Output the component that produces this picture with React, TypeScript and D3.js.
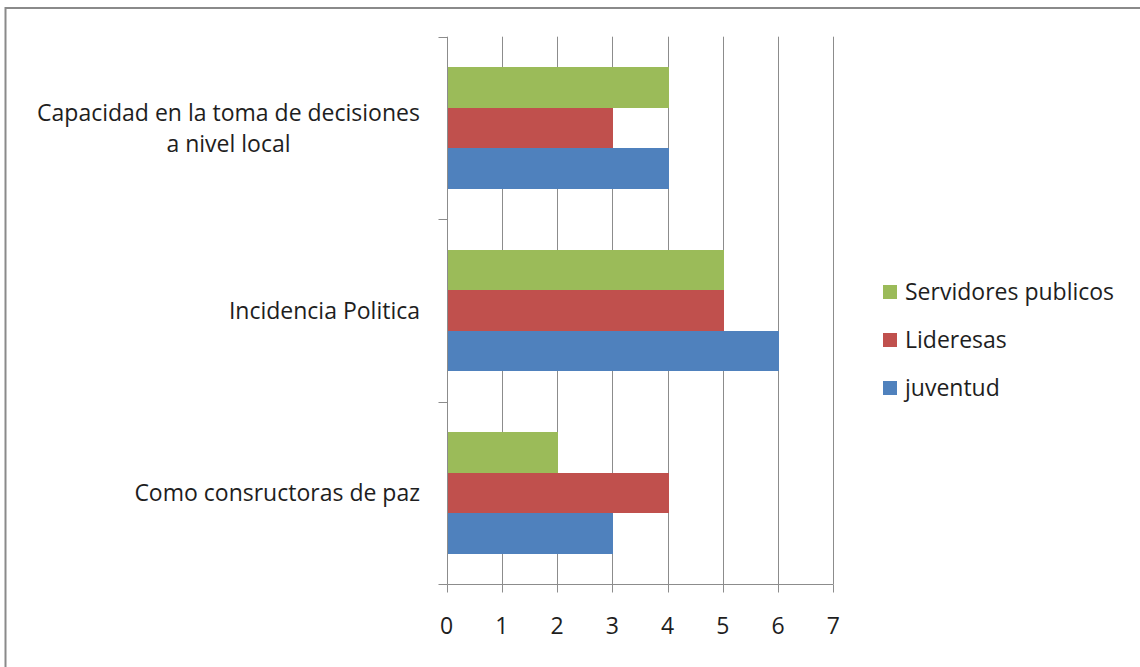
import * as d3 from 'd3';
import React, { useEffect, useRef } from 'react';

// Categorias (de arriba hacia abajo)
const categories = [
  'Capacidad en la toma de decisiones|a nivel local',
  'Incidencia Politica',
  'Como consructoras de paz',
];
// Series (orden dentro de cada grupo, de arriba hacia abajo)
const seriesNames = ['Servidores publicos', 'Lideresas', 'juventud'];
const seriesColors = ['#9BBB59', '#C0504D', '#4F81BD'];

const servidores = [4, 5, 2];
const lideresas = [3, 5, 4];
const juventud = [4, 6, 3];

const xTicks = [0, 1, 2, 3, 4, 5, 6, 7];

const FONT = "'Open Sans', sans-serif";
const FONT_SIZE = '23px';

const App: React.FC = () => {
  const chartRef = useRef<SVGSVGElement | null>(null);

  useEffect(() => {
    if (!chartRef.current) return;
    const svg = d3.select(chartRef.current);
    svg.selectAll('*').remove();

    const width = 1140;
    const height = 667;
    const plot = { left: 446.5, right: 833.3, top: 36.7, bottom: 584.3 };

    // Marco
    svg
      .append('path')
      .attr('d', `M5.5,${height} V8 H${width}`)
      .attr('fill', 'none')
      .attr('stroke', '#8a8a8a')
      .attr('stroke-width', 2);

    const xScale = d3.scaleLinear().domain([0, 7]).range([plot.left, plot.right]);
    const yScale = d3
      .scaleBand<string>()
      .domain(categories)
      .range([plot.top, plot.bottom])
      .paddingInner(0)
      .paddingOuter(0);
    const yInner = d3
      .scaleBand<string>()
      .domain(seriesNames)
      .range([0, yScale.bandwidth()])
      .paddingInner(0)
      .paddingOuter(0.75);

    const grid = '#8c8c8c';

    // Lineas de cuadricula
    svg
      .append('g')
      .selectAll('line')
      .data(xTicks.filter((t) => t > 0))
      .enter()
      .append('line')
      .attr('x1', (d) => Math.round(xScale(d)) + 0.5)
      .attr('x2', (d) => Math.round(xScale(d)) + 0.5)
      .attr('y1', plot.top)
      .attr('y2', plot.bottom)
      .attr('stroke', grid)
      .attr('stroke-width', 1);

    // Barras
    const values = [servidores, lideresas, juventud];
    const rows = categories.flatMap((c, i) =>
      seriesNames.map((s, j) => ({ cat: c, series: s, value: values[j][i], color: seriesColors[j] }))
    );
    const barTop = (d: { cat: string; series: string }) =>
      Math.round((yScale(d.cat) as number) + (yInner(d.series) as number));
    const barBottom = (d: { cat: string; series: string }) =>
      Math.round((yScale(d.cat) as number) + (yInner(d.series) as number) + yInner.bandwidth());
    svg
      .append('g')
      .attr('shape-rendering', 'crispEdges')
      .selectAll('rect')
      .data(rows)
      .enter()
      .append('rect')
      .attr('x', Math.round(xScale(0)))
      .attr('y', barTop)
      .attr('width', (d) => Math.round(xScale(d.value)) - Math.round(xScale(0)) + 1)
      .attr('height', (d) => barBottom(d) - barTop(d))
      .attr('fill', (d) => d.color);

    // Eje Y
    const yAxisX = Math.round(plot.left) + 0.5;
    svg
      .append('line')
      .attr('x1', yAxisX)
      .attr('x2', yAxisX)
      .attr('y1', plot.top)
      .attr('y2', plot.bottom)
      .attr('stroke', grid);
    const yBoundaries = [...categories.map((c) => yScale(c) as number), plot.bottom];
    svg
      .append('g')
      .selectAll('line')
      .data(yBoundaries)
      .enter()
      .append('line')
      .attr('x1', yAxisX - 9)
      .attr('x2', yAxisX)
      .attr('y1', (d) => Math.round(d) + 0.5)
      .attr('y2', (d) => Math.round(d) + 0.5)
      .attr('stroke', grid);

    // Eje X
    const xAxisY = Math.round(plot.bottom) + 0.5;
    svg
      .append('line')
      .attr('x1', yAxisX)
      .attr('x2', plot.right)
      .attr('y1', xAxisY)
      .attr('y2', xAxisY)
      .attr('stroke', grid);
    svg
      .append('g')
      .selectAll('line')
      .data(xTicks)
      .enter()
      .append('line')
      .attr('x1', (d) => Math.round(xScale(d)) + 0.5)
      .attr('x2', (d) => Math.round(xScale(d)) + 0.5)
      .attr('y1', xAxisY)
      .attr('y2', xAxisY + 8)
      .attr('stroke', grid);
    svg
      .append('g')
      .selectAll('text')
      .data(xTicks)
      .enter()
      .append('text')
      .attr('x', (d) => xScale(d))
      .attr('y', 626)
      .attr('dy', '0.35em')
      .attr('text-anchor', 'middle')
      .style('font-family', FONT)
      .style('font-size', FONT_SIZE)
      .attr('fill', '#1e1e1e')
      .text((d) => String(d));

    // Etiquetas de categorias
    const catLabels = svg.append('g');
    categories.forEach((c) => {
      const lines = c.split('|');
      const cy = (yScale(c) as number) + yScale.bandwidth() / 2;
      const lh = 31;
      const cx = 228.5;
      const anchorRight = lines.length === 1;
      lines.forEach((ln, k) => {
        catLabels
          .append('text')
          .attr('x', anchorRight ? 420 : cx)
          .attr('y', cy + (k - (lines.length - 1) / 2) * lh)
          .attr('dy', '0.35em')
          .attr('text-anchor', anchorRight ? 'end' : 'middle')
          .style('font-family', FONT)
          .style('font-size', FONT_SIZE)
          .attr('fill', '#1e1e1e')
          .text(ln);
      });
    });

    // Leyenda
    const legend = svg.append('g');
    seriesNames.forEach((s, i) => {
      const ly = 292 + i * 48;
      legend
        .append('rect')
        .attr('x', 883)
        .attr('y', ly - 7)
        .attr('width', 14)
        .attr('height', 14)
        .attr('fill', seriesColors[i]);
      legend
        .append('text')
        .attr('x', 905)
        .attr('y', ly)
        .attr('dy', '0.35em')
        .style('font-family', FONT)
        .style('font-size', FONT_SIZE)
        .attr('fill', '#1e1e1e')
        .text(s);
    });
  }, []);

  return (
    <div style={{ position: 'absolute', left: 0, top: 0, width: 1140, height: 667, background: '#fff' }}>
      <svg ref={chartRef} width={1140} height={667} style={{ display: 'block' }} />
    </div>
  );
};

export default App;
